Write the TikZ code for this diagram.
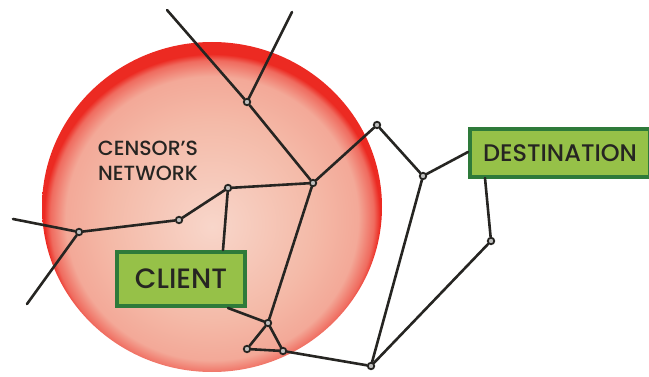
\documentclass[tikz,border=0pt]{standalone}
\usepackage{fontspec}
\setmainfont{Poppins}[BoldFont={Poppins Medium}]
\definecolor{inkc}{HTML}{262522}
\definecolor{blobin}{HTML}{F8D6CA}
\definecolor{blobmid}{HTML}{F4BAA8}
\definecolor{blobedge}{HTML}{EC2A22}
\definecolor{boxfill}{HTML}{96C148}
\definecolor{boxline}{HTML}{2E7A3A}
\pgfdeclareradialshading{blobshade}{\pgfpoint{0bp}{-3bp}}{color(0bp)=(blobin); color(15bp)=(blobmid); color(21.5bp)=(blobmid!88!blobedge); color(23.8bp)=(blobedge!55!blobmid); color(24.7bp)=(blobedge); color(50bp)=(blobedge)}
\begin{document}
\begin{tikzpicture}[x=1pt,y=-1pt,
  wire/.style={draw=inkc,line width=2.6pt,line cap=round,line join=round},
  dot/.style={circle,draw=inkc,line width=1.8pt,fill=white!70!inkc,inner sep=0pt,minimum size=6.5pt},
  greenbox/.style={draw=boxline,line width=3.5pt,fill=boxfill,inner sep=0pt,text=inkc},
  label/.style={text=inkc,align=center,font=\bfseries\fontsize{20.5}{25}\selectfont}]
\useasboundingbox (0,0) rectangle (649,377);
% censor's network blob
\path[shading=blobshade] (212,207) ellipse [x radius=170, y radius=165];
\node[label] (cn) at (148,161) {CENSOR'S\\NETWORK};
% boxes
\node[greenbox,minimum width=128pt,minimum height=54pt,font=\bfseries\fontsize{28}{30}\selectfont] (client) at (181,279) {CLIENT};
\node[greenbox,minimum width=180pt,minimum height=48pt,font=\bfseries\fontsize{24}{26}\selectfont] (dest) at (560,153) {DESTINATION};
% junctions
\node[dot] (A) at (247,102) {};
\node[dot] (B) at (313,183) {};
\node[dot] (C) at (377,125) {};
\node[dot] (D) at (228,188) {};
\node[dot] (E) at (179,220) {};
\node[dot] (F) at (79,232) {};
\node[dot] (G) at (268,323) {};
\node[dot] (H) at (247,349) {};
\node[dot] (I) at (283,351) {};
\node[dot] (J) at (371,366) {};
\node[dot] (K) at (423,176) {};
\node[dot] (L) at (491,241) {};
% free ends
\coordinate (t1) at (167,10);
\coordinate (t2) at (292,12);
\coordinate (w1) at (13,219);
\coordinate (w2) at (27,304);
\coordinate (cb) at (228,308);
\coordinate (ct) at (223,250);
\coordinate (dl) at (468,152);
\coordinate (db) at (485,178);
% connectors
\draw[wire] (t1) -- (A);
\draw[wire] (t2) -- (A);
\draw[wire] (A) -- (B);
\draw[wire] (B) -- (C);
\draw[wire] (D) -- (B);
\draw[wire] (E) -- (D);
\draw[wire] (F) -- (E);
\draw[wire] (w1) -- (F);
\draw[wire] (F) -- (w2);
\draw[wire] (D) -- (ct);
\draw[wire] (B) -- (G);
\draw[wire] (cb) -- (G);
\draw[wire] (G) -- (H);
\draw[wire] (G) -- (I);
\draw[wire] (H) -- (I);
\draw[wire] (I) -- (J);
\draw[wire] (C) -- (K);
\draw[wire] (K) -- (dl);
\draw[wire] (K) -- (J);
\draw[wire] (db) -- (L);
\draw[wire] (L) -- (J);
\end{tikzpicture}
\end{document}
